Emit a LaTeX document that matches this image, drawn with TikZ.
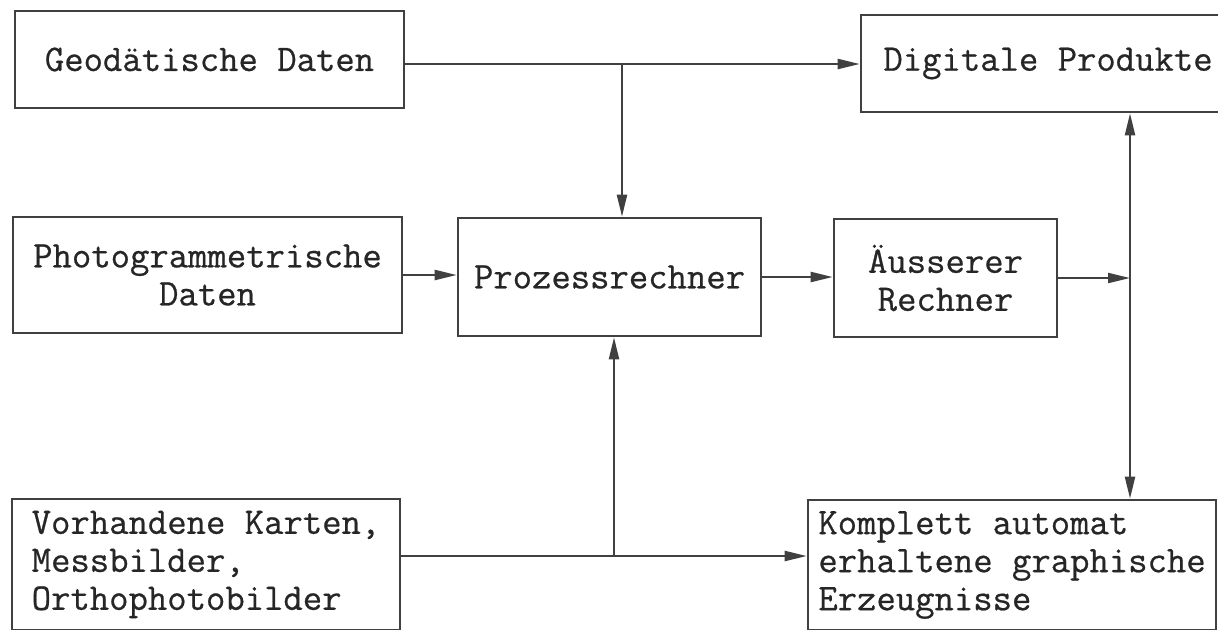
\documentclass[tikz,border=0pt]{standalone}
\usepackage{fontspec}
\setmonofont{Latin Modern Mono}[FakeBold=0.6]
\usetikzlibrary{arrows.meta}

\begin{document}
\begin{tikzpicture}[x=0.5pt,y=-0.5pt,
		box/.style={draw=black!75, line width=1.3pt, rectangle, inner sep=0pt,
			text=black!85, align=center, font=\ttfamily\fontsize{18.8}{19}\selectfont},
		boxl/.style={box, align=left},
		arr/.style={draw=black!75, line width=1.1pt, -{Triangle[length=11pt,width=5pt]}},
		arrb/.style={draw=black!75, line width=1.1pt, {Triangle[length=11pt,width=5pt]}-{Triangle[length=11pt,width=5pt]}}]
			\useasboundingbox (0,0) rectangle (1218,629);
			\clip (0,0) rectangle (1218,629);
			\node[box, minimum width=194.5pt, minimum height=48.5pt] (geo) at (209.5,59.5) {Geodätische Daten};
			\node[box, minimum width=187pt, minimum height=48.5pt] (dig) at (1048,63.5) {Digitale Produkte};
			\node[box, minimum width=194.5pt, minimum height=58pt] (photo) at (207.5,275) {Photogrammetrische\\Daten};
			\node[box, minimum width=151.5pt, minimum height=59pt] (proz) at (609.5,277) {Prozessrechner};
			\node[box, minimum width=111.5pt, minimum height=59pt] (aus) at (945.5,278) {Äusserer\\Rechner};
			\node[boxl, minimum width=194pt, minimum height=65.5pt] (vor) at (206,564.5) {Vorhandene Karten,\\Messbilder,\\Orthophotobilder};
			\node[boxl, minimum width=204pt, minimum height=65pt] (kom) at (1012,565) {Komplett automat\\erhaltene graphische\\Erzeugnisse};
			\coordinate (jtop) at (622,64);
			\coordinate (jbot) at (614,556);
			\coordinate (bus) at (1130,280);
			\draw[arr] (geo.east |- jtop) -- (dig.west |- jtop);
			\draw[arr] (jtop) -- (jtop |- proz.north);
			\draw[arr] (photo.east) -- (photo.east -| proz.west);
			\draw[arr] (proz.east) -- (proz.east -| aus.west);
			\draw[arr] (aus.east) -- (aus.east -| bus);
			\draw[arrb] (bus |- dig.south) -- (bus |- kom.north);
			\draw[arr] (vor.east |- jbot) -- (kom.west |- jbot);
			\draw[arr] (jbot) -- (jbot |- proz.south);
		\end{tikzpicture}
\end{document}
